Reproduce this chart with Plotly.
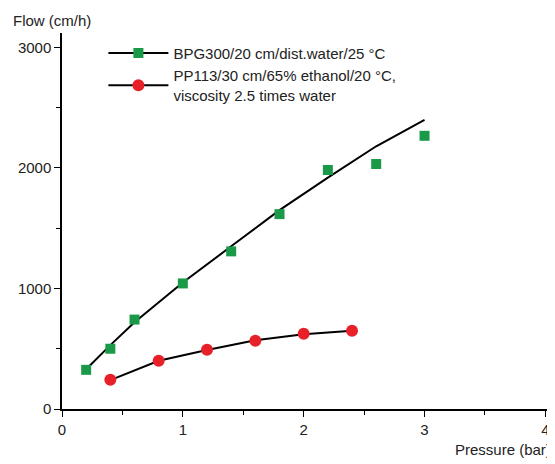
import plotly.graph_objects as go

# BPG300 data
bpg_p = [0.2, 0.4, 0.6, 1.0, 1.4, 1.8, 2.2, 2.6, 3.0]
bpg_flow = [325, 500, 742, 1042, 1308, 1617, 1983, 2033, 2267]
bpg_fit = [330, 530, 720, 1050, 1350, 1650, 1920, 2180, 2400]

# PP113 data
pp_p = [0.4, 0.8, 1.2, 1.6, 2.0, 2.4]
pp_flow = [242, 400, 492, 567, 625, 650]
pp_fit = [240, 400, 490, 570, 620, 650]

green = "#1a9a48"
red = "#e8202a"
font = "Liberation Sans, Arial, sans-serif"

fig = go.Figure()

fig.add_trace(go.Scatter(x=bpg_p, y=bpg_fit, mode="lines",
                         line=dict(color="black", width=2), showlegend=False))
fig.add_trace(go.Scatter(x=pp_p, y=pp_fit, mode="lines",
                         line=dict(color="black", width=2), showlegend=False))
fig.add_trace(go.Scatter(x=bpg_p, y=bpg_flow, mode="markers",
                         marker=dict(symbol="square", size=10, color=green),
                         showlegend=False))
fig.add_trace(go.Scatter(x=pp_p, y=pp_flow, mode="markers",
                         marker=dict(symbol="circle", size=12, color=red),
                         showlegend=False))

# legend entries
fig.add_trace(go.Scatter(x=[None], y=[None], mode="lines+markers",
                         name="BPG300/20 cm/dist.water/25 °C",
                         line=dict(color="black", width=2),
                         marker=dict(symbol="square", size=10, color=green)))
fig.add_trace(go.Scatter(x=[None], y=[None], mode="lines+markers",
                         name="PP113/30 cm/65% ethanol/20 °C,<br>viscosity 2.5 times water",
                         line=dict(color="black", width=2),
                         marker=dict(symbol="circle", size=12, color=red)))

fig.update_layout(
    width=547, height=456,
    margin=dict(l=54, r=6, t=25, b=55),
    plot_bgcolor="white", paper_bgcolor="white",
    font=dict(family=font, size=15, color="#222"),
    showlegend=True,
    legend=dict(x=0.085, y=0.99, xanchor="left", yanchor="top",
                bgcolor="rgba(0,0,0,0)", itemwidth=60, tracegroupgap=10,
                font=dict(size=15)),
    xaxis=dict(range=[0, 4.03], tickvals=[0, 1, 2, 3, 4], showgrid=False,
               zeroline=False, showline=True, linecolor="black", linewidth=1.5,
               ticks="outside", ticklen=6, tickcolor="black",
               minor=dict(tickvals=[0.5, 1.5, 2.5, 3.5], ticks="outside",
                          ticklen=4, tickcolor="black")),
    yaxis=dict(range=[0, 3120], tickvals=[0, 1000, 2000, 3000], showgrid=False,
               zeroline=False, showline=True, linecolor="black", linewidth=1.5,
               ticks="outside", ticklen=6, tickcolor="black",
               minor=dict(tickvals=[500, 1500, 2500], ticks="outside",
                          ticklen=4, tickcolor="black")),
    annotations=[
        dict(text="Flow (cm/h)", x=0, y=1.0, xref="paper", yref="paper",
             xanchor="center", yanchor="bottom", yshift=2, xshift=-10,
             showarrow=False, font=dict(size=15)),
        dict(text="Pressure (bar)", x=1, y=0, xref="paper", yref="paper",
             xanchor="right", yanchor="top", yshift=-30, xshift=4,
             showarrow=False, font=dict(size=15)),
    ],
)

fig.write_html("out.html")
